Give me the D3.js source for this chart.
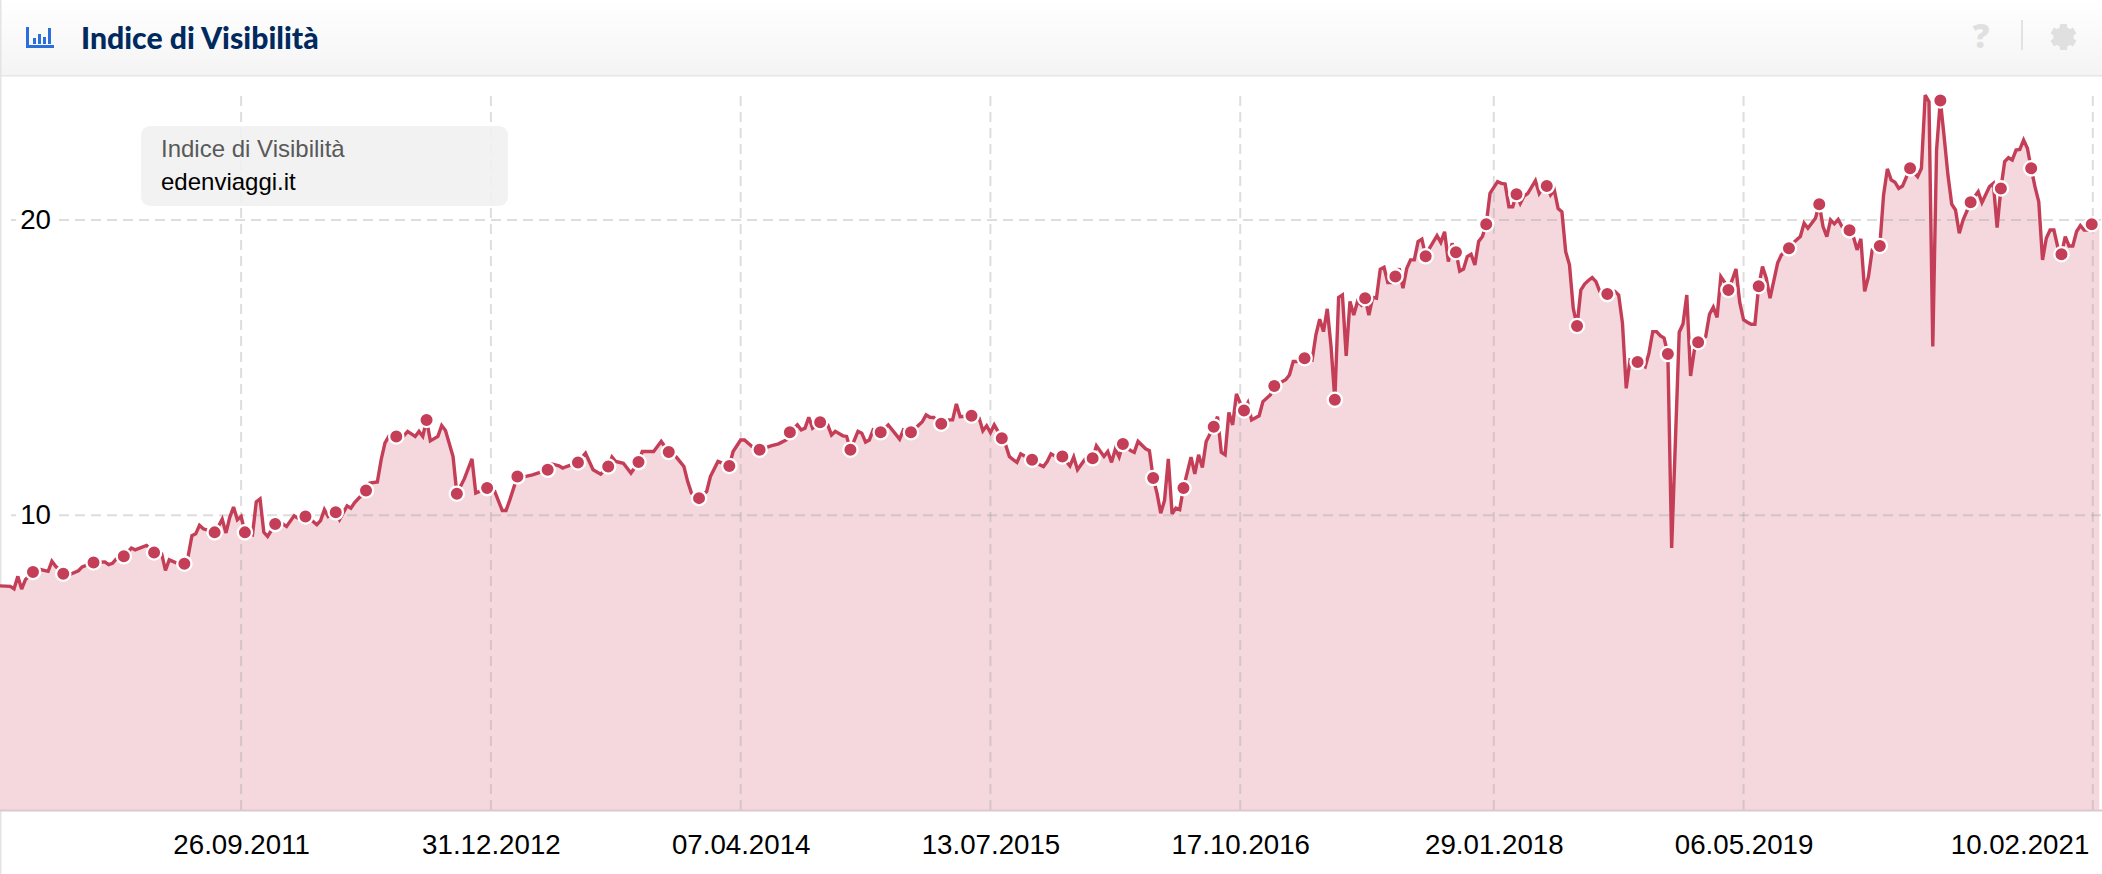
<!DOCTYPE html>
<html><head><meta charset="utf-8">
<script src="https://cdn.jsdelivr.net/npm/d3@7"></script>
<style>html,body{margin:0;padding:0;background:#fff}svg{display:block}</style>
</head><body><svg id="c" width="2102" height="874"></svg>
<script>
// Week numbers are counted from firstWeek; values are the visibility index.
const firstWeek = "2010-07-05";
const weeksA = [0,3,4,5,6,7,9,11,13,14,15,17,19,21,22,25,28,29,30,31,33,35,36,39,41,43,44,45,47,49,50,51,52,53,54,57,58,59,60,61,62,63,64,65,67,68,69,70,71,73,74,76,78,79,81,83,84,85,86,87,89,90,92,93,94,97,98,100];
const valuesA = [7.61,7.59,7.51,7.93,7.50,7.82,8.08,8.16,8.10,8.44,8.27,8.02,8.01,8.12,8.25,8.40,8.42,8.33,8.37,8.52,8.61,8.89,8.83,8.98,8.74,8.70,8.13,8.49,8.38,8.36,8.61,9.31,9.37,9.66,9.54,9.42,9.62,9.87,9.40,9.93,10.28,9.85,9.96,9.42,9.34,10.45,10.55,9.42,9.28,9.70,9.79,9.62,9.98,9.90,9.96,9.79,9.68,9.82,10.19,9.96,10.10,9.85,10.32,10.24,10.43,10.84,11.09,11.13];
const weeksB = [101,102,103,105,107,108,110,111,112,113,114,116,117,118,120,121,123,125,126,129,131,133,134,135,137,139,141,145,146,148,149,150,153,155,157,159,161,162,163,165,167,169,170,173,175,177,179,181,182,183,185];
const valuesB = [11.88,12.44,12.67,12.67,12.69,12.84,12.67,12.84,12.67,13.23,12.52,12.67,13.04,12.87,11.99,10.73,11.24,11.91,10.75,10.92,10.81,10.16,10.16,10.52,11.31,11.31,11.37,11.54,11.74,11.67,11.60,11.65,11.79,12.10,11.54,11.39,11.65,11.97,11.82,11.76,11.43,11.80,12.16,12.16,12.50,12.14,11.97,11.65,11.14,10.75,10.58];
const weeksC = [187,188,190,193,194,196,197,199,201,204,206,208,209,211,212,213,214,215,217,219,220,221,223,224,225,227,228,229,230,231,233,235,238,239,241,244,245,246,247,249,251,252,253,254,257,259,260,261,262,263,264,265,266,267,268,269,270,271,273,275,276,277,278,279,281,283,284,285,287,289,290,292,293,294,295,296,297,299,300,301,303,304];
const valuesC = [10.80,11.31,11.82,11.67,12.16,12.55,12.55,12.33,12.22,12.35,12.42,12.55,12.81,13.06,12.89,12.95,13.32,12.95,13.15,13.06,12.72,12.84,12.69,12.67,12.22,12.84,12.78,12.48,12.55,12.89,12.81,13.06,12.58,12.89,12.81,13.17,13.40,13.32,13.31,13.10,13.23,13.23,13.77,13.34,13.37,13.29,12.86,13.03,12.80,13.06,12.84,12.61,12.39,11.99,11.88,11.79,12.08,12.01,11.88,11.71,11.65,11.82,12.08,12.01,11.99,11.67,11.97,11.54,11.90,11.93,12.35,11.99,12.16,11.79,12.24,11.97,12.41,12.19,12.13,12.50,12.25,12.19];
const weeksD = [305,306,307,308,309,310,311,312,313,315,316,317,318,319,321,322,323,324,325,326,327,328,329,330,331,333,334,336,337,340,341,342,343,345,347,348,349,350,351,352,353,354,355,356,357,358,359,360,361,362,363,364,365,366,367,368,369,370,371,372,373,374,375,376,377,378,380,381,382,383,384,385,386,387,388,389,390,391,392,393];
const valuesD = [11.26,10.75,10.07,10.50,11.91,10.05,10.24,10.19,10.92,11.97,11.40,12.05,11.62,12.50,13.00,13.34,12.13,12.05,13.48,13.06,14.11,13.80,13.55,13.80,13.23,13.37,13.85,14.08,14.38,14.59,14.75,15.21,15.21,15.32,15.26,16.11,16.64,16.22,16.99,15.71,13.91,17.38,17.46,15.40,17.24,16.78,17.24,17.12,17.35,16.78,17.38,17.35,18.33,18.40,17.88,17.88,18.09,18.36,17.69,18.36,18.65,18.65,19.27,19.35,18.77,19.04,19.47,19.24,19.60,18.59,19.21,18.91,18.27,18.34,18.76,18.84,18.48,19.27,19.44,19.86];
const weeksE = [394,396,397,398,399,400,401,402,403,404,406,407,408,409,410,411,412,413,414,415,416,417,418,419,420,421,422,423,425,427,428,429,430,431,433,435,436,437,438,439,440,441,442,444,445,446,447,448,449,451,452,453,454,455,456,457,458,459,460,461,462,463,464,465,466,467,468,470,471,473];
const valuesE = [20.90,21.30,21.24,21.22,20.45,20.45,20.87,20.56,20.81,20.90,21.33,20.90,21.10,21.15,20.85,21.01,20.39,20.28,18.93,18.48,17.01,16.41,17.63,17.83,17.95,18.05,17.91,17.58,17.49,17.58,17.46,16.51,14.30,15.26,15.19,15.03,15.49,16.22,16.22,16.08,16.00,15.46,8.89,16.20,16.48,17.46,14.72,15.60,15.86,16.05,16.81,17.05,16.70,18.08,17.89,17.63,17.97,18.34,17.20,16.62,16.54,16.47,16.47,17.76,18.42,18.03,17.35,18.54,18.82,19.04];
const weeksF = [474,476,477,478,480,481,482,483,484,485,486,487,489,490,491,492,493,494,495,497,498,499,500,501,502,503,505,507,508,509,510,511,512,513,514,515,516,517,518,519,521,523,524,526,527,528,529,530,531,532,533,534,535,536,537,538,539,540,541,542,543,544,545,546,547,548,549,550,551,552,553,555];
const valuesF = [19.21,19.44,19.89,19.72,20.06,20.53,19.78,19.44,20.00,19.87,20.02,19.78,19.65,19.44,18.99,19.36,17.58,18.08,18.99,19.12,20.85,21.73,21.36,21.28,21.07,21.15,21.75,21.47,21.75,24.23,24.01,15.72,22.37,24.05,22.82,21.53,20.54,20.34,19.55,20.00,20.60,20.96,20.59,21.13,21.24,19.74,21.07,21.98,22.11,22.03,22.37,22.39,22.71,22.43,21.75,21.13,20.62,18.65,19.38,19.66,19.66,19.10,18.84,19.44,19.12,19.12,19.61,19.81,19.66,19.66,19.86,19.80];
const markerWeeks = [9,17,25,33,41,49,57,65,73,81,89,97,105,113,121,129,137,145,153,161,169,177,185,193,201,209,217,225,233,241,249,257,265,273,281,289,297,305,313,321,329,337,345,353,361,369,377,385,393,401,409,417,425,433,441,449,457,465,473,481,489,497,505,513,521,529,537,545,553];
const xTickLabels = ["26.09.2011","31.12.2012","07.04.2014","13.07.2015","17.10.2016","29.01.2018","06.05.2019","10.02.2021"];
const yTickValues = [10,20];
const seriesName = "Indice di Visibilità";
const domainName = "edenviaggi.it";

const W = 2102, H = 874, plotTop = 96, plotBottom = 810;
const parseDot = d3.timeParse("%d.%m.%Y"), fmtDot = d3.timeFormat("%d.%m.%Y");
const start = d3.timeParse("%Y-%m-%d")(firstWeek);
const dateOf = w => d3.timeDay.offset(start, w * 7);
const weeks = [].concat(weeksA, weeksB, weeksC, weeksD, weeksE, weeksF);
const values = [].concat(valuesA, valuesB, valuesC, valuesD, valuesE, valuesF);
const data = weeks.map((w, i) => ({w, date: dateOf(w), v: values[i]}));
const byWeek = new Map(data.map(d => [d.w, d]));

const x = d3.scaleTime().domain([parseDot("07.07.2010"), parseDot("27.02.2021")]).range([0, W]);
const y = d3.scaleLinear().domain([0, 20]).range([810.5, 220]);
const svg = d3.select("#c");

// header
const defs = svg.append("defs");
const grad = defs.append("linearGradient").attr("id", "hd").attr("x1", 0).attr("x2", 0).attr("y1", 0).attr("y2", 1);
grad.append("stop").attr("offset", 0).attr("stop-color", "#ffffff");
grad.append("stop").attr("offset", 1).attr("stop-color", "#f4f4f4");
defs.append("clipPath").attr("id", "plot").append("rect").attr("x", 0).attr("y", 76).attr("width", W).attr("height", plotBottom - 76);
svg.append("rect").attr("width", W).attr("height", 75).attr("fill", "url(#hd)");
svg.append("rect").attr("y", 75).attr("width", W).attr("height", 1.5).attr("fill", "#e6e6e6");
svg.append("rect").attr("width", 1.5).attr("height", H).attr("fill", "#e4e4e4");

// header icon
const ic = svg.append("g").attr("fill", "#2b6fdc");
ic.append("path").attr("d", "M27.5 27v19.5h26.5").attr("fill", "none").attr("stroke", "#2b6fdc").attr("stroke-width", 3);
[[33,38,5],[38,34,9],[43,37,6],[48,28,15]].forEach(b => ic.append("rect").attr("x", b[0]).attr("y", b[1]).attr("width", 3).attr("height", b[2] + 1));
svg.append("text").attr("x", 81).attr("y", 49).attr("font-family", "Lato").attr("font-weight", 900).attr("font-size", 30.2).attr("fill", "#002a5e").text(seriesName);
svg.append("text").attr("x", 1981).attr("y", 48).attr("text-anchor", "middle").attr("font-family", "Open Sans").attr("font-weight", 800).attr("font-size", 33).attr("fill", "#e0e0e0").text("?");
svg.append("rect").attr("x", 2021).attr("y", 20).attr("width", 2).attr("height", 30).attr("fill", "#e2e2e2");
const gear = svg.append("g").attr("transform", "translate(2063.5,37)");
d3.range(3).forEach(i => gear.append("rect").attr("x", -3.6).attr("y", -13).attr("width", 7.2).attr("height", 26).attr("rx", 1).attr("fill", "#e0e0e0").attr("transform", `rotate(${i * 60})`));
gear.append("circle").attr("r", 7.5).attr("fill", "none").attr("stroke", "#e0e0e0").attr("stroke-width", 5.6);

// area and line
const plot = svg.append("g").attr("clip-path", "url(#plot)");
plot.append("path").datum(data).attr("fill", "#f4d8dd")
  .attr("d", d3.area().x(d => x(d.date)).y0(y(0)).y1(d => y(d.v)));

// grid
const tickDates = xTickLabels.map(parseDot);
plot.selectAll("line.v").data(tickDates).join("line").attr("class", "v")
  .attr("x1", d => x(d)).attr("x2", d => x(d)).attr("y1", plotTop).attr("y2", plotBottom)
  .attr("stroke", "#a0a0a0").attr("stroke-opacity", .36).attr("stroke-width", 2).attr("stroke-dasharray", "10 6");
plot.selectAll("line.h").data(yTickValues).join("line").attr("class", "h")
  .attr("x1", 11).attr("x2", W).attr("y1", d => y(d)).attr("y2", d => y(d))
  .attr("stroke", "#a0a0a0").attr("stroke-opacity", .36).attr("stroke-width", 2).attr("stroke-dasharray", "10 6");

plot.append("path").datum(data).attr("fill", "none").attr("stroke", "#c43e58").attr("stroke-width", 3.4)
  .attr("stroke-linejoin", "miter").attr("stroke-miterlimit", 3)
  .attr("d", d3.line().x(d => x(d.date)).y(d => y(d.v)));

// baseline
svg.append("rect").attr("x", 0).attr("y", plotBottom - 0.5).attr("width", W).attr("height", 2).attr("fill", "#dcc8cd");

// markers
svg.append("g").selectAll("circle").data(markerWeeks.map(w => byWeek.get(w))).join("circle")
  .attr("cx", d => x(d.date)).attr("cy", d => y(d.v)).attr("r", 7.15)
  .attr("fill", "#c43e58").attr("stroke", "#fff").attr("stroke-width", 2.3);

// axes
const xAxis = d3.axisBottom(x).tickValues(tickDates).tickSize(0).tickPadding(0).tickFormat(fmtDot);
const gx = svg.append("g").attr("transform", `translate(0,${plotBottom})`).call(xAxis);
gx.select(".domain").remove();
gx.selectAll("text").attr("font-family", "Liberation Sans, Arial").attr("font-size", 27.7).attr("fill", "#000").attr("dy", null).attr("y", 44);
gx.selectAll(".tick").filter((d, i) => i === xTickLabels.length - 1).select("text").attr("text-anchor", "end").attr("x", -4);

const yAxis = d3.axisLeft(y).tickValues(yTickValues).tickSize(0).tickPadding(0).tickFormat(d3.format("d"));
const gy = svg.append("g").attr("transform", "translate(51,0)").call(yAxis);
gy.select(".domain").remove();
gy.selectAll(".tick").insert("rect", "text").attr("x", -35).attr("y", -14).attr("width", 43).attr("height", 28).attr("fill", "#fff");
gy.selectAll("text").attr("font-family", "Liberation Sans, Arial").attr("font-size", 27.7).attr("fill", "#000").attr("dy", null).attr("x", 0).attr("y", 8);

// legend
const lg = svg.append("g");
lg.append("rect").attr("x", 141).attr("y", 126).attr("width", 367).attr("height", 80).attr("rx", 9).attr("fill", "#f0f0f0").attr("fill-opacity", .88);
lg.append("text").attr("x", 161).attr("y", 157).attr("font-family", "Liberation Sans, Arial").attr("font-size", 24).attr("fill", "#595959").text(seriesName);
lg.append("text").attr("x", 161).attr("y", 190).attr("font-family", "Liberation Sans, Arial").attr("font-size", 24).attr("fill", "#000").text(domainName);
</script></body></html>
